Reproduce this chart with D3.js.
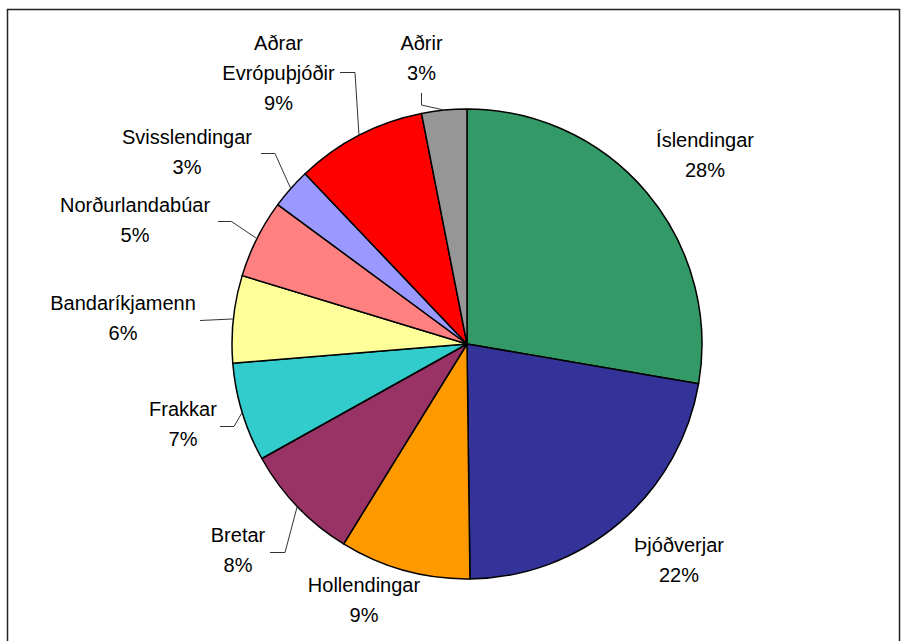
<!DOCTYPE html>
<html>
<head>
<meta charset="utf-8">
<script src="https://cdn.jsdelivr.net/npm/d3@7/dist/d3.min.js"></script>
<style>
  html, body { margin: 0; padding: 0; background: #fff; }
  svg { display: block; }
  text { font-family: Arial, "Liberation Sans", sans-serif; font-size: 20px; fill: #000; }
</style>
</head>
<body>
<div id="chart"></div>
<script>
// slice names (clockwise from 12 o'clock) and their shares in percent
var categories = ['Íslendingar', 'Þjóðverjar', 'Hollendingar', 'Bretar', 'Frakkar',
    'Bandaríkjamenn', 'Norðurlandabúar', 'Svisslendingar', 'Aðrar Evrópuþjóðir', 'Aðrir'];
var shares = [27.7, 22.1, 9.0, 8.1, 6.8, 6.0, 5.4, 2.8, 9.0, 3.1];
var colors = ['#339966', '#333399', '#FF9900', '#993366', '#33CCCC',
    '#FFFF99', '#FF8080', '#9999FF', '#FF0000', '#969696'];

// label placement: text lines, centre x / first baseline y, optional leader elbow
var labelLayout = {
    'Íslendingar':        {lines: ['Íslendingar'], x: 705, y: 147},
    'Þjóðverjar':         {lines: ['Þjóðverjar'], x: 679, y: 552},
    'Hollendingar':       {lines: ['Hollendingar'], x: 364, y: 592},
    'Bretar':             {lines: ['Bretar'], x: 238, y: 542, leader: [[270, 552.5], [285, 552.5]]},
    'Frakkar':            {lines: ['Frakkar'], x: 183, y: 416, leader: [[220, 426.5], [234, 426.5]]},
    'Bandaríkjamenn':     {lines: ['Bandaríkjamenn'], x: 123, y: 310, leader: [[200, 320.5]]},
    'Norðurlandabúar':    {lines: ['Norðurlandabúar'], x: 135, y: 212, leader: [[218, 221.5], [231.5, 221.5]]},
    'Svisslendingar':     {lines: ['Svisslendingar'], x: 187, y: 143.5, leader: [[261, 153.5], [275, 153.5]]},
    'Aðrar Evrópuþjóðir': {lines: ['Aðrar', 'Evrópuþjóðir'], x: 278.5, y: 50, leader: [[340, 72.5], [355, 72.5]]},
    'Aðrir':              {lines: ['Aðrir'], x: 421.5, y: 49.5, leader: [[421.5, 93], [421.5, 105]]}
};

var width = 908,
    height = 641,
    cx = 467,
    cy = 344,
    radius = 235,
    lineHeight = 30;

var svg = d3.select('#chart').append('svg')
    .attr('width', width)
    .attr('height', height);

// outer frame
svg.append('rect')
    .attr('x', 7.5)
    .attr('y', 9.5)
    .attr('width', 892)
    .attr('height', 700)
    .attr('fill', 'none')
    .attr('stroke', '#222')
    .attr('stroke-width', 1.5);

var pie = d3.pie()
    .sort(null)
    .value(function(d) { return d; });

var arc = d3.arc()
    .innerRadius(0)
    .outerRadius(radius);

var arcs = pie(shares);

var chart = svg.append('g')
    .attr('transform', 'translate(' + cx + ',' + cy + ')');

chart.selectAll('path.slice')
    .data(arcs)
    .enter()
    .append('path')
    .attr('class', 'slice')
    .attr('d', arc)
    .attr('fill', function(d, i) { return colors[i]; })
    .attr('stroke', '#000')
    .attr('stroke-width', 1.5)
    .attr('stroke-linejoin', 'round');

// leader lines end on the rim at the slice's middle angle
var line = d3.line();
arcs.forEach(function(d, i) {
    var lay = labelLayout[categories[i]];
    if (!lay.leader) return;
    var mid = (d.startAngle + d.endAngle) / 2,
        end = [cx + radius * Math.sin(mid), cy - radius * Math.cos(mid)];
    svg.append('path')
        .attr('d', line(lay.leader.concat([end])))
        .attr('fill', 'none')
        .attr('stroke', '#333')
        .attr('stroke-width', 1);
});

// labels: name line(s) then rounded percent
arcs.forEach(function(d, i) {
    var lay = labelLayout[categories[i]],
        rows = lay.lines.concat([Math.round(shares[i]) + '%']);
    var text = svg.append('text')
        .attr('text-anchor', 'middle')
        .attr('x', lay.x)
        .attr('y', lay.y);
    rows.forEach(function(r, j) {
        text.append('tspan')
            .attr('x', lay.x)
            .attr('y', lay.y + j * lineHeight)
            .text(r);
    });
});
</script>
</body>
</html>
